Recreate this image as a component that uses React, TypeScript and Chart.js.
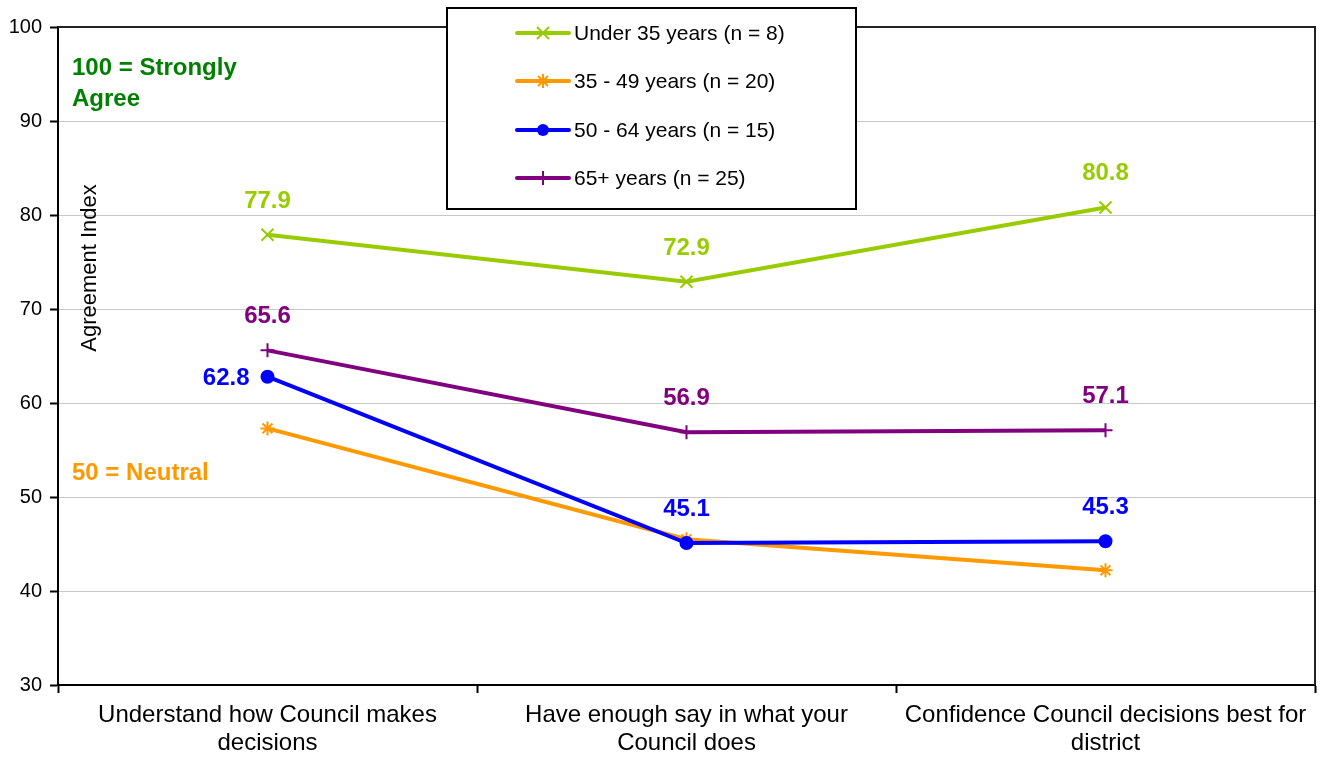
import React, { useEffect, useRef } from "react";
import { Chart, registerables } from "chart.js";

Chart.register(...registerables);

const categories: string[][] = [
  ["Understand how Council makes", "decisions"],
  ["Have enough say in what your", "Council does"],
  ["Confidence Council decisions best for", "district"],
];

const seriesNames = [
  "Under 35 years (n = 8)",
  "35 - 49 years (n = 20)",
  "50 - 64 years (n = 15)",
  "65+ years (n = 25)",
];
const under35 = [77.9, 72.9, 80.8];
const age35to49 = [57.3, 45.5, 42.2];
const age50to64 = [62.8, 45.1, 45.3];
const age65plus = [65.6, 56.9, 57.1];

const colors = ["#99CC00", "#FF9900", "#0000FF", "#800080"];
const markers = ["crossRot", "star", "circle", "cross"];
const markerRadius = [8.5, 7, 6, 7];
const showLabels = [true, false, true, true];

const yTicks = [30, 40, 50, 60, 70, 80, 90, 100];

const FONT = "'Liberation Sans', Arial, sans-serif";

function drawMarker(ctx: CanvasRenderingContext2D, style: string, x: number, y: number, r: number, color: string) {
  ctx.save();
  ctx.strokeStyle = color;
  ctx.fillStyle = color;
  ctx.lineWidth = 2;
  ctx.beginPath();
  const d = r * Math.SQRT1_2;
  if (style === "circle") {
    ctx.arc(x, y, r, 0, Math.PI * 2);
    ctx.fill();
  } else {
    if (style === "cross" || style === "star") {
      ctx.moveTo(x - r, y);
      ctx.lineTo(x + r, y);
      ctx.moveTo(x, y - r);
      ctx.lineTo(x, y + r);
    }
    if (style === "crossRot" || style === "star") {
      ctx.moveTo(x - d, y - d);
      ctx.lineTo(x + d, y + d);
      ctx.moveTo(x - d, y + d);
      ctx.lineTo(x + d, y - d);
    }
    ctx.stroke();
  }
  ctx.restore();
}

export default function App() {
  const ref = useRef<HTMLCanvasElement | null>(null);

  useEffect(() => {
    const canvas = ref.current;
    if (!canvas) return;
    const seriesData = [under35, age35to49, age50to64, age65plus];

    const framePlugin = {
      id: "frame",
      beforeDatasetsDraw(chart: any) {
        const { ctx, chartArea: a } = chart;
        ctx.save();
        ctx.strokeStyle = "#222";
        ctx.lineWidth = 2;
        ctx.beginPath();
        ctx.moveTo(a.left, a.top);
        ctx.lineTo(a.right, a.top);
        ctx.lineTo(a.right, a.bottom);
        ctx.stroke();
        ctx.fillStyle = "#000";
        ctx.font = `22px ${FONT}`;
        ctx.translate(90, 268);
        ctx.rotate(-Math.PI / 2);
        ctx.textAlign = "center";
        ctx.textBaseline = "middle";
        ctx.fillText("Agreement Index", 0, 0);
        ctx.restore();
        ctx.save();
        ctx.font = `bold 24px ${FONT}`;
        ctx.textAlign = "left";
        ctx.textBaseline = "alphabetic";
        ctx.fillStyle = "#008000";
        ctx.fillText("100 = Strongly", 72, 75);
        ctx.fillText("Agree", 72, 106);
        ctx.fillStyle = "#FF9900";
        ctx.fillText("50 = Neutral", 72, 480);
        ctx.restore();
      },
      afterDatasetsDraw(chart: any) {
        const { ctx } = chart;
        ctx.save();
        ctx.font = `bold 24px ${FONT}`;
        ctx.textBaseline = "alphabetic";
        seriesData.forEach((vals, di) => {
          if (!showLabels[di]) return;
          const meta = chart.getDatasetMeta(di);
          ctx.fillStyle = colors[di];
          vals.forEach((v, i) => {
            const pt = meta.data[i];
            const txt = v.toFixed(1);
            if (di === 2 && i === 0) {
              ctx.textAlign = "right";
              ctx.fillText(txt, pt.x - 18, pt.y + 8);
            } else {
              ctx.textAlign = "center";
              ctx.fillText(txt, pt.x, pt.y - 27);
            }
          });
        });
        ctx.restore();
      },
      afterDraw(chart: any) {
        const { ctx } = chart;
        ctx.save();
        const bx = 447, by = 8, bw = 409, bh = 201;
        ctx.fillStyle = "#fff";
        ctx.fillRect(bx, by, bw, bh);
        ctx.strokeStyle = "#000";
        ctx.lineWidth = 2;
        ctx.strokeRect(bx, by, bw, bh);
        const rows = [33, 81, 130, 178];
        ctx.font = `21px ${FONT}`;
        ctx.textBaseline = "middle";
        ctx.textAlign = "left";
        seriesNames.forEach((name, i) => {
          const y = rows[i];
          ctx.strokeStyle = colors[i];
          ctx.lineWidth = 4;
          ctx.lineCap = "round";
          ctx.beginPath();
          ctx.moveTo(517, y);
          ctx.lineTo(569, y);
          ctx.stroke();
          ctx.lineCap = "butt";
          drawMarker(ctx, markers[i], 543, y, markerRadius[i], colors[i]);
          ctx.fillStyle = "#000";
          ctx.fillText(name, 574, y + 1);
        });
        ctx.restore();
      },
    };

    const chart = new Chart(canvas, {
      type: "line",
      data: {
        labels: categories,
        datasets: seriesData.map((d, i) => ({
          label: seriesNames[i],
          data: d,
          borderColor: colors[i],
          backgroundColor: colors[i],
          borderWidth: 4,
          pointStyle: markers[i] as any,
          pointRadius: markerRadius[i],
          pointBorderWidth: 2,
          pointBackgroundColor: colors[i],
          pointBorderColor: colors[i],
          tension: 0,
          fill: false,
          order: 4 - i,
        })),
      },
      options: {
        animation: false,
        responsive: false,
        devicePixelRatio: 1,
        layout: { autoPadding: false, padding: { top: 27, right: 6, left: 0, bottom: 0 } },
        plugins: {
          legend: { display: false },
          tooltip: { enabled: false },
          title: { display: false },
        },
        scales: {
          x: {
            type: "category",
            offset: true,
            grid: {
              offset: true,
              drawOnChartArea: false,
              drawTicks: true,
              tickLength: 8,
              tickColor: "#000",
              tickWidth: 2,
            },
            border: { color: "#000", width: 2 },
            ticks: {
              color: "#000",
              font: { family: FONT, size: 24, lineHeight: 1.17 },
              padding: 8,
              maxRotation: 0,
              autoSkip: false,
            },
            afterFit(scale: any) {
              scale.height = 76;
              scale.paddingLeft = 0;
              scale.paddingRight = 0;
            },
          },
          y: {
            min: 30,
            max: 100,
            afterBuildTicks(scale: any) {
              scale.ticks = yTicks.map((v) => ({ value: v }));
            },
            grid: {
              color: "#C8C8C8",
              lineWidth: 1,
              drawTicks: true,
              tickLength: 8,
              tickColor: "#000",
              tickWidth: 2,
            },
            border: { color: "#000", width: 2 },
            ticks: {
              color: "#000",
              font: { family: FONT, size: 20 },
              padding: 8,
            },
            afterFit(scale: any) {
              scale.width = 58;
              scale.paddingTop = 0;
              scale.paddingBottom = 0;
            },
          },
        },
      },
      plugins: [framePlugin],
    });
    return () => chart.destroy();
  }, []);

  return (
    <div style={{ position: "absolute", left: 0, top: 0, width: 1321, height: 761, background: "#fff" }}>
      <canvas ref={ref} width={1321} height={761} style={{ display: "block" }} />
    </div>
  );
}
